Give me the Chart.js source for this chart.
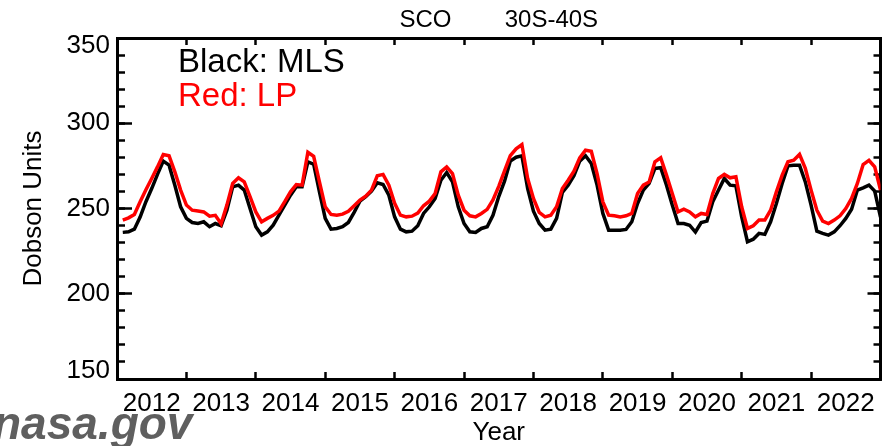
<!DOCTYPE html>
<html>
<head>
<meta charset="utf-8">
<title>SCO 30S-40S</title>
<script src="https://cdn.jsdelivr.net/npm/chart.js@4/dist/chart.umd.min.js"></script>
<style>
  html, body { margin: 0; padding: 0; background: #fff; }
  canvas { display: block; }
</style>
</head>
<body>
<canvas id="sco" width="884" height="446"></canvas>
<script>
// Monthly stratospheric column ozone (Dobson Units), 30S-40S, Jan 2012 - Dec 2022.
const years = [2012, 2013, 2014, 2015, 2016, 2017, 2018, 2019, 2020, 2021, 2022];
const yTickValues = [150, 200, 250, 300, 350];

// MLS (black)
const mlsSco = [
  236.0, 236.3, 237.9, 245.0, 254.0, 261.7, 270.0, 277.8, 275.4, 263.7, 251.0, 244.2,
  241.8, 241.2, 242.2, 239.3, 241.2, 239.9, 249.0, 262.7, 263.7, 260.8, 250.0, 239.3,
  234.4, 236.3, 240.2, 246.1, 252.0, 257.8, 262.7, 262.7, 277.4, 276.0, 259.8, 244.2,
  237.9, 238.3, 239.3, 241.8, 247.7, 254.3, 256.9, 260.2, 265.1, 264.1, 257.8, 245.1,
  237.9, 236.3, 236.7, 239.9, 247.1, 251.0, 255.9, 266.6, 271.1, 265.6, 251.0, 241.2,
  236.3, 235.9, 238.3, 239.3, 246.0, 257.0, 266.0, 277.8, 280.1, 280.9, 261.7, 248.4,
  241.2, 237.3, 237.9, 244.2, 259.4, 263.7, 269.2, 277.8, 280.9, 276.4, 263.7, 247.1,
  237.3, 237.3, 237.3, 237.7, 242.2, 252.9, 260.8, 264.7, 273.5, 273.9, 263.7, 252.0,
  241.2, 241.2, 240.2, 236.2, 241.8, 242.6, 253.9, 260.8, 267.6, 263.7, 263.3, 245.1,
  230.5, 232.0, 235.4, 234.8, 242.2, 252.9, 264.7, 275.0, 275.4, 275.4, 265.6, 252.0,
  236.7, 235.4, 234.4, 236.3, 239.9, 244.2, 249.6, 260.8, 262.1, 263.7, 260.2, 245.0
];

// LP (red)
const lpSco = [
  243.2, 244.5, 246.5, 254.0, 261.0, 267.6, 274.4, 281.7, 280.9, 271.5, 260.8, 252.0,
  249.0, 248.5, 248.0, 245.5, 246.0, 241.0, 252.0, 264.7, 268.0, 265.6, 257.0, 248.0,
  242.2, 244.2, 246.0, 248.5, 254.0, 259.8, 264.0, 263.7, 283.0, 280.6, 265.6, 251.0,
  246.5, 246.1, 246.7, 248.4, 251.6, 254.9, 257.2, 260.8, 269.2, 270.0, 263.7, 253.0,
  246.1, 245.1, 245.5, 247.3, 251.6, 254.3, 258.8, 271.5, 274.4, 270.5, 257.8, 249.0,
  245.7, 245.1, 247.1, 249.5, 255.0, 263.0, 272.0, 281.0, 285.0, 287.5, 267.6, 255.9,
  247.7, 245.1, 246.1, 251.0, 261.7, 266.6, 271.9, 279.7, 284.2, 283.6, 270.5, 253.9,
  246.1, 245.7, 245.1, 245.7, 247.1, 258.8, 263.7, 265.6, 277.4, 279.7, 269.6, 258.8,
  248.0, 249.6, 248.0, 245.1, 247.1, 246.5, 258.8, 267.6, 270.0, 268.0, 268.6, 251.0,
  238.3, 239.9, 243.2, 243.2, 249.0, 259.8, 269.6, 277.4, 278.3, 281.7, 273.5, 260.8,
  249.0, 242.6, 241.2, 243.2, 245.7, 250.0, 255.9, 264.7, 275.8, 278.3, 274.4, 260.8
];

const firstYear = years[0];
const lastYear = years[years.length - 1] + 1;
// time coordinate: year + month/12 (month = 1..12)
const toPoints = vals => vals.map((v, i) => ({ x: firstYear + (i + 1) / 12, y: v }));

const FONT = 'Liberation Sans, Arial, Helvetica, sans-serif';
Chart.defaults.font.family = FONT;
Chart.defaults.color = '#000';

// tick marks pointing into the plot, no grid lines
const inward = (len, width) => ({
  drawOnChartArea: false, drawTicks: true, tickLength: -len,
  tickWidth: width, tickColor: '#000'
});
const frame = { display: true, color: '#000', width: 3 };
// fixed box size, no extra label overhang padding
const fixSize = (w, h) => s => {
  if (w !== null) s.width = w;
  if (h !== null) s.height = h;
  s.paddingLeft = 0; s.paddingRight = 0; s.paddingTop = 0; s.paddingBottom = 0;
};

// free text: series key and source tag
const notes = {
  id: 'notes',
  afterDraw(chart) {
    const { ctx, chartArea } = chart;
    ctx.save();
    ctx.textBaseline = 'alphabetic';
    ctx.textAlign = 'left';
    ctx.font = '33px ' + FONT;
    ctx.fillStyle = '#000';
    ctx.fillText('Black: MLS', chartArea.left + 61, chartArea.top + 33.7);
    ctx.fillStyle = '#ff0000';
    ctx.fillText('Red: LP', chartArea.left + 61, chartArea.top + 68);
    ctx.font = 'italic bold 46px ' + FONT;
    ctx.fillStyle = '#5f5f5f';
    ctx.fillText('nasa.gov', -7, 438.5);
    ctx.restore();
  }
};

new Chart(document.getElementById('sco'), {
  type: 'line',
  data: {
    datasets: [
      {
        label: 'LP', data: toPoints(lpSco), order: 0,
        borderColor: '#ff0000', borderWidth: 3.5, pointRadius: 0, tension: 0, fill: false
      },
      {
        label: 'MLS', data: toPoints(mlsSco), order: 1,
        borderColor: '#000000', borderWidth: 3.5, pointRadius: 0, tension: 0, fill: false
      }
    ]
  },
  options: {
    responsive: false,
    devicePixelRatio: 1,
    animation: false,
    events: [],
    layout: { padding: { left: 0, right: 3.5, top: 0, bottom: 0 } },
    plugins: {
      legend: { display: false },
      tooltip: { enabled: false },
      title: {
        display: true,
        fullSize: false,
        text: 'SCO' + '\u00A0'.repeat(8) + '30S-40S',
        color: '#000',
        font: { size: 24, weight: 'normal', family: FONT },
        padding: { top: 6.4, bottom: 2.8 }
      }
    },
    scales: {
      x: {
        type: 'linear', position: 'bottom', min: firstYear, max: lastYear,
        ticks: {
          stepSize: 1, autoSkip: false, maxRotation: 0, minRotation: 0,
          labelOffset: 34.7, padding: 16.4, color: '#000',
          font: { size: 26 },
          callback: v => (years.includes(v) ? String(v) : '')
        },
        grid: inward(7, 2.5),
        border: frame,
        title: { display: true, text: 'Year', color: '#000', font: { size: 26 }, padding: { top: 0, bottom: -2 } },
        afterFit: fixSize(null, 67)
      },
      xTop: {
        type: 'linear', position: 'top', min: firstYear, max: lastYear,
        ticks: { display: false, stepSize: 1, autoSkip: false },
        grid: inward(7, 2.5),
        border: frame,
        afterFit: fixSize(null, 0)
      },
      y: {
        type: 'linear', position: 'left', weight: 1, min: 150, max: 350,
        afterBuildTicks: s => { s.ticks = yTickValues.map(v => ({ value: v })); },
        ticks: {
          padding: 22, color: '#000',
          font: { size: 26, lineHeight: '16px' },
          callback: v => (v === yTickValues[yTickValues.length - 1] ? ['', String(v)]
                        : v === yTickValues[0] ? [String(v), ''] : String(v))
        },
        grid: inward(15, 2.5),
        border: frame,
        title: { display: true, text: 'Dobson Units', color: '#000', font: { size: 26 }, padding: { top: 18.4, bottom: 0 } },
        afterFit: fixSize(117, null)
      },
      yMinor: {
        type: 'linear', position: 'left', weight: 0, min: 150, max: 350,
        ticks: { display: false, stepSize: 10 },
        grid: inward(8, 2.5),
        border: { display: false },
        afterFit: fixSize(0, null)
      },
      yRight: {
        type: 'linear', position: 'right', min: 150, max: 350,
        ticks: { display: false, stepSize: 50 },
        grid: inward(13, 2.5),
        border: frame,
        afterFit: fixSize(0, null)
      },
      yRightMinor: {
        type: 'linear', position: 'right', min: 150, max: 350,
        ticks: { display: false, stepSize: 10 },
        grid: inward(7, 2.5),
        border: { display: false },
        afterFit: fixSize(0, null)
      }
    }
  },
  plugins: [notes]
});
</script>
</body>
</html>
